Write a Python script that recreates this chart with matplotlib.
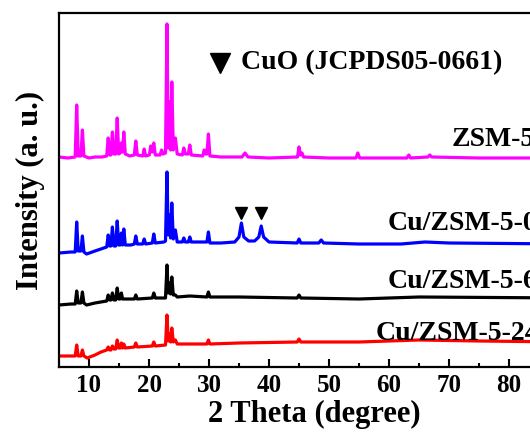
import matplotlib
matplotlib.use("Agg")
import matplotlib.pyplot as plt
import numpy as np

plt.rcParams["font.family"] = ["Liberation Serif", "DejaVu Serif"]
plt.rcParams["font.weight"] = "bold"

# ---- XRD patterns (2θ in degrees, intensity in a.u., each trace stacked by an offset) ----
zsm5_2theta = [5, 6.5, 7.7, 7.95, 8.2, 8.65, 8.9, 9.15, 10, 11, 12.2, 12.95, 13.2, 13.45,
               13.65, 13.9, 14.15, 14.45, 14.7, 14.95, 15.2, 15.4, 15.6, 15.8, 16.05, 16.8,
               17.55, 17.8, 18.05, 18.95, 19.2, 19.45, 20.05, 20.3, 20.55, 20.8, 21.05, 21.85,
               22.1, 22.35, 22.75, 23.0, 23.2, 23.4, 23.6, 23.8, 24.05, 24.4, 24.7, 25.55,
               25.8, 26.05, 26.55, 26.8, 27.05, 28.95, 29.2, 29.45, 29.65, 29.9, 30.15, 32,
               35.5, 36.0, 36.5, 40, 44.75, 45.0, 45.25, 45.5, 45.75, 50, 54.5, 54.8, 55.1,
               60, 63.0, 63.3, 63.6, 66.5, 66.8, 67.1, 75, 90]
zsm5_int = [1, 0, 1, 53, 2, 2, 28, 2, 0, 1, 1, 2, 20, 3,
            3, 26, 4, 4, 40, 4, 5, 15, 6, 26, 4, 2,
            3, 17, 3, 2, 9, 2, 3, 12, 6, 15, 3, 3,
            8, 4, 5, 134, 10, 56, 8, 76, 8, 20, 4, 3,
            10, 4, 4, 13, 3, 2, 8, 4, 4, 24, 2, 1,
            1, 5, 1, 0, 1, 11, 3, 5, 1, 0, 0, 5, 0,
            0, 0, 3, 0, 1, 3, 1, 0, 0]

cu0_2theta = [5, 7, 7.7, 7.95, 8.2, 8.65, 8.9, 9.15, 9.6, 11, 12.95, 13.2, 13.45, 13.65,
              13.9, 14.15, 14.45, 14.7, 14.95, 15.2, 15.4, 15.6, 15.8, 16.05, 17, 17.55,
              17.8, 18.05, 18.95, 19.2, 19.45, 20.55, 20.8, 21.05, 22.5, 22.75, 23.0, 23.2,
              23.4, 23.6, 23.8, 24.05, 24.4, 24.7, 25.55, 25.8, 26.05, 26.55, 26.8, 27.05,
              29.65, 29.9, 30.15, 32, 34.3, 35.0, 35.4, 35.8, 36.6, 37.6, 38.3, 38.7, 39.1,
              40.0, 44.7, 45.0, 45.3, 48.3, 48.7, 49.1, 55, 62, 66, 70, 90]
cu0_int = [0, 1, 1, 31, 2, 2, 17, 1, -1, 2, 6, 18, 7, 7,
           26, 7, 7, 32, 8, 8, 20, 8, 24, 8, 8, 9,
           17, 9, 9, 14, 9, 10, 19, 10, 11, 12, 81, 18,
           38, 15, 50, 14, 23, 11, 11, 15, 11, 11, 16, 11,
           11, 21, 10, 10, 11, 16, 30, 16, 12, 12, 16, 27, 16,
           11, 10, 14, 10, 10, 13, 10, 9, 9, 11, 10, 9]

cu6_2theta = [5, 7, 7.7, 7.95, 8.2, 8.65, 8.9, 9.15, 9.6, 11, 12.95, 13.2, 13.45, 13.65,
              13.9, 14.15, 14.45, 14.7, 14.95, 15.2, 15.4, 15.6, 17.55, 17.8, 18.05, 20.55,
              20.8, 21.05, 22.75, 23.0, 23.2, 23.4, 23.6, 23.8, 24.05, 24.4, 24.7, 26.8,
              29.65, 29.9, 30.15, 35, 44.7, 45.0, 45.3, 55, 65, 90]
cu6_int = [0, 1, 1, 14, 2, 2, 13, 2, 0, 2, 4, 10, 5, 5,
           12, 5, 5, 17, 6, 6, 12, 6, 6, 10, 6, 7,
           12, 7, 7, 40, 12, 22, 11, 28, 10, 10, 8, 9,
           8, 13, 8, 8, 7, 10, 7, 6, 8, 7]

cu24_2theta = [5, 7, 7.7, 7.95, 8.2, 8.65, 8.9, 9.15, 9.7, 11, 12, 12.95, 13.2, 13.45,
               13.65, 13.9, 14.15, 14.45, 14.7, 14.95, 15.2, 15.4, 15.6, 15.8, 16.05, 17.55,
               17.8, 18.05, 20.55, 20.8, 21.05, 22.75, 23.0, 23.2, 23.4, 23.6, 23.8, 24.05,
               24.4, 24.7, 26.5, 29.65, 29.9, 30.15, 35, 44.7, 45.0, 45.3, 55, 65, 75, 90]
cu24_int = [0, 0, 0, 11, 0, 0, 6, 0, -2, 1, 4, 6, 9, 6,
            6, 10, 7, 7, 16, 8, 8, 13, 8, 12, 8, 9,
            13, 9, 10, 14, 10, 11, 41, 15, 22, 14, 28, 14,
            16, 12, 12, 12, 16, 12, 13, 14, 17, 14, 14, 16, 15, 14]

series_names = ["ZSM-5", "Cu/ZSM-5-0h", "Cu/ZSM-5-6h", "Cu/ZSM-5-24h"]
series_x = [zsm5_2theta, cu0_2theta, cu6_2theta, cu24_2theta]
series_y = [zsm5_int, cu0_int, cu6_int, cu24_int]
offsets = [209, 114, 62, 11]
colors = ["#FF00FF", "#0000FF", "#000000", "#FF0000"]

# label anchor (2θ, intensity) for each trace
label_x = [70.5, 59.7, 59.7, 57.8]
label_y = [227, 144, 86, 33]

# CuO reflections
cuo_2theta = [35.4, 38.7]
cuo_mark_y = 154

fig = plt.figure(figsize=(5.30, 4.34), dpi=100)
ax = fig.add_axes([59 / 530, 67 / 434, 510 / 530, 354 / 434])

for xs, ys, off, c in zip(series_x, series_y, offsets, colors):
    ax.plot(xs, np.asarray(ys) + off, color=c, lw=2.3, solid_joinstyle="round")

for name, lx, ly in zip(series_names, label_x, label_y):
    ax.text(lx, ly, name, fontsize=20, fontweight="bold", ha="left", va="center")

ax.plot(cuo_2theta, [cuo_mark_y] * len(cuo_2theta), linestyle="none", marker="v",
        color="black", markersize=8)

ax.plot([31.8], [304], linestyle="none", marker="v", color="black", markersize=15)
ax.text(35.4, 304, "CuO (JCPDS05-0661)", fontsize=20, fontweight="bold",
        ha="left", va="center")

ax.set_xlim(5, 90)
ax.set_ylim(0, 354)
ax.set_xticks(np.arange(10, 91, 10))
ax.set_xticks(np.arange(15, 90, 10), minor=True)
ax.set_yticks([])
ax.tick_params(axis="x", which="major", direction="in", length=6, width=1.5,
               labelsize=18, pad=5)
ax.tick_params(axis="x", which="minor", direction="in", length=3, width=1.5)
for lbl in ax.get_xticklabels():
    lbl.set_fontweight("bold")
for s in ax.spines.values():
    s.set_linewidth(1.6)

ax.set_xlabel("2 Theta (degree)", fontsize=22, fontweight="bold", labelpad=2)
ax.set_ylabel("Intensity (a. u.)", fontsize=22, fontweight="bold", labelpad=10)

fig.savefig("out.png", dpi=100)
